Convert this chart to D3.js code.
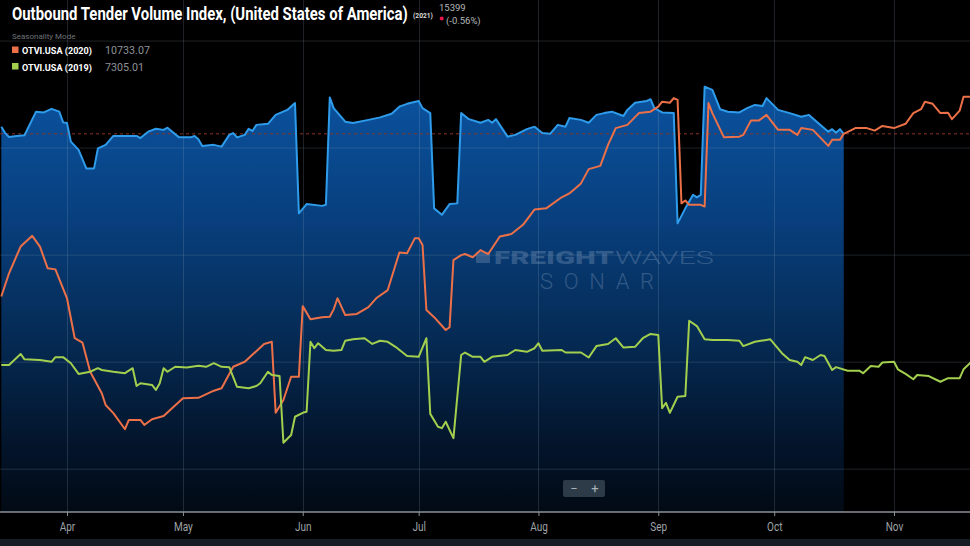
<!DOCTYPE html>
<html>
<head>
<meta charset="utf-8">
<script src="https://cdnjs.cloudflare.com/ajax/libs/d3/7.8.5/d3.min.js"></script>
<style>
html, body { margin: 0; padding: 0; background: #000; }
svg { display: block; font-family: Roboto, "Noto Sans", sans-serif; }
</style>
</head>
<body>
<svg width="970" height="546"></svg>
<script>

// days are counted from Apr 1 (seasonality mode: every year is laid on the 2021 calendar)
var baseDate = new Date(2021, 3, 1);
var monthLabels = ["Apr", "May", "Jun", "Jul", "Aug", "Sep", "Oct", "Nov"];
var gridValues = [6000, 9000, 12000, 15000, 18000];

// OTVI.USA 2021
var days2021 = [-17,-16,-15,-13,-11,-8,-6,-4,-2,-1,
	0,1,3,5,7,8,10,12,15,18,
	19,21,23,25,26,29,32,33,34,35,
	38,40,42,43,44,46,47,48,49,52,
	54,57,59,60,62,66,67,68,69,72,
	74,78,81,84,86,88,91,92,94,95,
	97,99,101,102,104,107,109,110,111,114,
	116,119,121,123,125,127,129,130,133,135,
	137,139,141,144,145,147,150,151,152,154,
	157,158,160,162,163,164,165,167,169,171,
	174,176,178,180,181,184,187,190,192,194,
	197,198,199,200,201];
var vals2021 = [15600,15420,15310,15340,15360,16020,16000,16100,16020,15720,
	15700,15180,14950,14430,14430,14990,15090,15340,15340,15340,
	15280,15460,15540,15510,15570,15300,15300,15340,15250,15060,
	15090,15040,15370,15420,15300,15370,15540,15480,15650,15680,
	15930,16070,16260,13170,13430,13380,13410,16420,16120,15740,
	15700,15790,15860,15960,16160,16240,16320,16120,15980,13310,
	13130,13430,13450,15980,15810,15710,15790,15710,15810,15320,
	15370,15530,15600,15420,15400,15650,15600,15840,15790,15710,
	15930,15980,16020,15900,16070,16270,16320,16370,16120,16000,
	15980,12890,13310,13690,13620,13690,16720,16630,16090,16020,
	16000,16120,16210,16180,16400,16070,15980,15880,15930,15740,
	15460,15530,15430,15530,15399];

// OTVI.USA 2020
var days2020 = [-17,-15,-12,-9,-7,-5,-3,0,2,4,
	6,9,10,12,15,16,19,20,22,25,
	30,34,38,40,43,46,51,53,54,56,
	58,60,61,63,66,68,69,70,72,75,
	78,80,83,86,88,90,91,92,93,95,
	98,99,100,102,103,105,107,
	109,112,115,118,121,124,128,130,133,135,
	138,140,142,145,148,151,153,154,156,157,
	158,159,160,161,164,165,166,167,170,174,
	175,177,179,181,184,187,189,190,193,197,
	198,200,201,204,207,209,211,214,217,219,
	221,222,224,226,228,229,231,232,234];
var vals2020 = [10840,11490,12240,12540,12240,11630,11600,10790,9670,9550,
	8730,8130,7800,7570,7120,7380,7380,7240,7400,7490,
	7990,8000,8200,8270,8870,9010,9510,9570,7580,7940,
	8590,8590,10570,10200,10260,10270,10480,10790,10320,10350,
	10540,10790,11020,12070,12050,12470,12470,12280,10460,10260,
	9900,9980,11860,12000,12030,11940,12140,
	12030,12520,12590,12850,13280,13310,13620,13730,14010,14410,
	14500,15090,15560,15650,15980,16020,16160,16300,16270,16400,
	16350,13450,13530,13410,13410,13360,16260,15980,15300,15320,
	15370,15770,15770,15930,15510,15510,15370,15560,15510,15060,
	15230,15230,15400,15560,15560,15490,15620,15560,15680,15980,
	16090,16300,16240,15980,15990,15810,16050,16440,16440];

// OTVI.USA 2019
var days2019 = [-17,-15,-12,-11,-7,-4,-3,-1,1,3,
	6,8,9,12,15,17,18,19,22,23,
	24,25,26,28,31,34,36,38,40,42,
	44,47,49,50,52,53,55,56,58,59,
	61,62,63,64,65,67,69,71,72,74,
	77,79,81,83,85,88,91,93,94,96,
	97,98,100,102,103,105,107,
	108,110,114,116,119,121,122,123,128,129,
	133,135,137,140,142,144,147,149,151,153,
	154,155,156,158,160,161,163,165,167,171,
	174,175,178,182,185,187,189,190,191,193,
	195,196,198,199,202,205,206,208,210,211,
	214,215,217,219,220,223,226,228,231,232,234];
var vals2019 = [8920,8920,9230,9080,9060,9010,9140,9140,8970,8670,
	8730,8830,8780,8730,8690,8830,8330,8410,8360,8220,
	8410,8830,8730,8870,8850,8900,8870,8970,8870,8860,
	8310,8270,8330,8410,8730,8640,8610,6740,6960,7470,
	7580,7610,9570,9390,9530,9340,9320,9340,9600,9640,
	9670,9510,9600,9570,9430,9170,9150,9670,7550,7190,
	7150,7330,6870,9200,9270,9150,9150,
	9010,9150,9200,9340,9290,9390,9530,9320,9340,9270,
	9270,9130,9450,9510,9670,9410,9430,9670,9790,9760,
	7710,7860,7580,8030,8050,10160,10010,9640,9620,9620,
	9600,9450,9570,9640,9250,9060,9010,8920,9140,9060,
	9200,9170,8780,8860,8760,8760,8690,8890,8870,8990,
	9010,8800,8670,8520,8640,8610,8450,8550,8550,8800,9010];

var width = 970, height = 546, plotBottom = 512;

var svg = d3.select("svg");

var toPoints = function(days, vals) {
	return days.map(function(d, i) { return { date: d3.timeDay.offset(baseDate, d), v: vals[i] }; });
};
var s2021 = toPoints(days2021, vals2021),
	s2020 = toPoints(days2020, vals2020),
	s2019 = toPoints(days2019, vals2019);

var tickDates = monthLabels.map(function(m) { return d3.timeParse("%b %Y")(m + " 2021"); });

var x = d3.scaleTime().domain([tickDates[0], tickDates[tickDates.length - 1]]).range([67, 894]);
var y = d3.scaleLinear().domain([4800, 19150]).range([plotBottom, 0]);

//squeeze a text horizontally to a given width (the original font is a condensed one)
var fitText = function(sel, px, py, w) {
	var len = sel.node().getComputedTextLength();
	sel.attr("x", 0).attr("y", 0)
		.attr("transform", "translate(" + px + "," + py + ") scale(" + Math.min(1, w / len) + ",1)");
	return sel;
};

//background and bottom strip
svg.append("rect").attr("width", width).attr("height", height).attr("fill", "#000");
svg.append("rect").attr("y", 539).attr("width", width).attr("height", 7).attr("fill", "#151c23");

//gradient for the 2021 area
var grad = svg.append("defs").append("linearGradient").attr("id", "blueFill")
	.attr("gradientUnits", "userSpaceOnUse").attr("x1", 0).attr("y1", 85).attr("x2", 0).attr("y2", plotBottom);
[[0, "#0b53a0"], [0.3, "#08407f"], [0.6, "#052a53"], [0.85, "#03142a"], [1, "#020a14"]].forEach(function(s) {
	grad.append("stop").attr("offset", s[0]).attr("stop-color", s[1]);
});

//2021 area
svg.append("path").datum(s2021)
	.attr("fill", "url(#blueFill)")
	.attr("d", d3.area().x(function(d) { return x(d.date); }).y0(plotBottom).y1(function(d) { return y(d.v); }));

//grid
svg.append("g").selectAll("line").data(gridValues).enter().append("line")
	.attr("x1", 0).attr("x2", width)
	.attr("y1", function(d) { return y(d); }).attr("y2", function(d) { return y(d); })
	.attr("stroke", "rgba(150,168,190,0.2)").attr("stroke-width", 1);
svg.append("g").selectAll("line").data(tickDates).enter().append("line")
	.attr("x1", function(d) { return Math.round(x(d)) + 0.5; }).attr("x2", function(d) { return Math.round(x(d)) + 0.5; })
	.attr("y1", 0).attr("y2", plotBottom)
	.attr("stroke", "rgba(150,168,190,0.2)").attr("stroke-width", 1);

//watermark
var wm = svg.append("g").attr("fill", "#9fb4cf").attr("opacity", 0.28);
wm.append("rect").attr("x", 476).attr("y", 252).attr("width", 14).attr("height", 11);
wm.append("text").attr("x", 494).attr("y", 264).attr("font-size", 19).attr("font-weight", 900)
	.attr("textLength", 120).attr("lengthAdjust", "spacingAndGlyphs").text("FREIGHT");
wm.append("text").attr("x", 615).attr("y", 264).attr("font-size", 19).attr("font-weight", 300)
	.attr("textLength", 99).attr("lengthAdjust", "spacingAndGlyphs").text("WAVES");
wm.append("text").attr("x", 540).attr("y", 289).attr("font-size", 22).attr("font-weight", 300)
	.attr("textLength", 114).attr("lengthAdjust", "spacing").text("SONAR");

//last value line
svg.append("line").attr("x1", 0).attr("x2", width)
	.attr("y1", y(vals2021[vals2021.length - 1])).attr("y2", y(vals2021[vals2021.length - 1]))
	.attr("stroke", "#8a3426").attr("stroke-width", 1).attr("stroke-dasharray", "3,3");

//lines
var line = d3.line().x(function(d) { return x(d.date); }).y(function(d) { return y(d.v); });
[[s2021, "#2f9ceb"], [s2020, "#ec7048"], [s2019, "#a3cf4f"]].forEach(function(s) {
	svg.append("path").datum(s[0]).attr("d", line)
		.attr("fill", "none").attr("stroke", s[1]).attr("stroke-width", 2).attr("stroke-linejoin", "round");
});

//x axis
svg.append("line").attr("x1", 0).attr("x2", width).attr("y1", plotBottom).attr("y2", plotBottom)
	.attr("stroke", "#8d9297").attr("stroke-width", 1.5);
var ax = svg.append("g").attr("transform", "translate(0," + plotBottom + ")")
	.call(d3.axisBottom(x).tickValues(tickDates).tickFormat(d3.timeFormat("%b")).tickSize(4).tickPadding(6));
ax.select(".domain").remove();
ax.selectAll("line").attr("stroke", "#8d9297");
ax.selectAll("text").attr("fill", "#9ea3a8").attr("font-size", 12.5).attr("font-family", "Roboto, sans-serif")
	.each(function() { this.setAttribute("textLength", this.getComputedTextLength() * 0.8); })
	.attr("lengthAdjust", "spacingAndGlyphs");

//zoom buttons
svg.append("rect").attr("x", 563).attr("y", 480).attr("width", 42).attr("height", 17).attr("rx", 2)
	.attr("fill", "#2c3b47");
svg.append("text").attr("x", 574).attr("y", 493).attr("text-anchor", "middle").attr("fill", "#a9b3bb")
	.attr("font-size", 13).text("\u2212");
svg.append("text").attr("x", 595).attr("y", 493).attr("text-anchor", "middle").attr("fill", "#a9b3bb")
	.attr("font-size", 13).text("+");

//title and legend
fitText(svg.append("text").attr("fill", "#fff").attr("font-size", 19).attr("font-weight", 700)
	.text("Outbound Tender Volume Index, (United States of America)"), 12, 20, 396);
fitText(svg.append("text").attr("fill", "#ddd").attr("font-size", 7).attr("font-weight", 700)
	.text("(2021)"), 413, 18, 20);
fitText(svg.append("text").attr("fill", "#b3b7bb").attr("font-size", 9.5).text("15399"), 439, 10.5, 30);
svg.append("circle").attr("cx", 441.7).attr("cy", 18.5).attr("r", 2).attr("fill", "#e8164a");
fitText(svg.append("text").attr("fill", "#b3b7bb").attr("font-size", 9.5).text("(-0.56%)"), 446, 23.5, 44);

fitText(svg.append("text").attr("fill", "#6f7378").attr("font-size", 8).text("Seasonality Mode"), 12, 39, 65);

var legend = [
	{ label: "OTVI.USA (2020)", value: "10733.07", color: "#ec7048", y: 54, w: 45 },
	{ label: "OTVI.USA (2019)", value: "7305.01", color: "#a3cf4f", y: 70.5, w: 39 }
];
legend.forEach(function(l) {
	svg.append("rect").attr("x", 12).attr("y", l.y - 7.5).attr("width", 6.5).attr("height", 6.5).attr("fill", l.color);
	fitText(svg.append("text").attr("fill", "#fff").attr("font-size", 9.5).attr("font-weight", 700)
		.text(l.label), 22, l.y, 70);
	fitText(svg.append("text").attr("fill", "#8e9297").attr("font-size", 11).text(l.value), 105, l.y, l.w);
});
</script>
</body>
</html>
